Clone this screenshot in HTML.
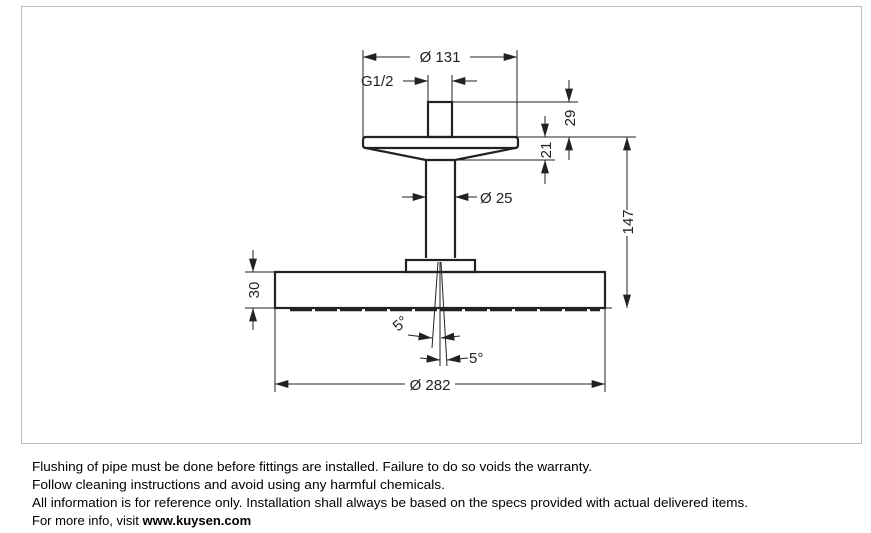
<!DOCTYPE html>
<html><head><style>body{margin:0;background:#fff}svg{display:block}</style></head><body>
<svg width="871" height="533" viewBox="0 0 871 533" xmlns="http://www.w3.org/2000/svg" font-family="Liberation Sans, sans-serif">
<rect x="21.5" y="6.5" width="840" height="437" fill="#fff" stroke="#bbb"/>
<defs>
<marker id="a" viewBox="0 0 10 6" refX="10" refY="3" markerWidth="14" markerHeight="8" markerUnits="userSpaceOnUse" orient="auto-start-reverse"><path d="M0,0L10,3L0,6z" fill="#222"/></marker>
</defs>
<g stroke="#222" fill="none">
<!-- body lines -->
<g stroke-width="2.2">
<rect x="428" y="102" width="24" height="35"/>
<path d="M366,137H515Q518,137 518,140V145Q518,148 515,148H366Q363,148 363,145V140Q363,137 366,137Z"/>
<path d="M366,148L426,160H455L515,148"/>
<path d="M426,160V258M455,160V258"/>
<rect x="406" y="260" width="69" height="12"/>
<rect x="275" y="272" width="330" height="36"/>
</g>
<path d="M290,310H600" stroke-width="2.5" stroke-dasharray="22,3"/>
<!-- extension lines -->
<g stroke-width="1">
<path d="M363,50V137M517,50V137M428,75V102M452,75V102"/>
<path d="M452,102H578M517,137H636M455,160H555"/>
<path d="M245,272H275M245,308H612"/>
<path d="M275,308V392M605,308V392"/>
<path d="M438,262L432,348M440,262V366M441,262L447,366"/>
</g>
<!-- dims -->
<g stroke-width="1">
<path d="M363,57H410M470,57H517" marker-start="url(#a)" marker-end="url(#a)"/>
<path d="M403,81H428" marker-end="url(#a)"/>
<path d="M477,81H452" marker-end="url(#a)"/>
<path d="M569,80V102" marker-end="url(#a)"/>
<path d="M569,160V137" marker-end="url(#a)"/>
<path d="M545,116V137" marker-end="url(#a)"/>
<path d="M545,184V160" marker-end="url(#a)"/>
<path d="M627,210V137" marker-end="url(#a)"/>
<path d="M627,236V308" marker-end="url(#a)"/>
<path d="M253,250V272" marker-end="url(#a)"/>
<path d="M253,330V308" marker-end="url(#a)"/>
<path d="M402,197H426" marker-end="url(#a)"/>
<path d="M477,197H455" marker-end="url(#a)"/>
<path d="M408,335L432,338" marker-end="url(#a)"/>
<path d="M460,336L441,338" marker-end="url(#a)"/>
<path d="M420,358L440,360" marker-end="url(#a)"/>
<path d="M468,358L447,360" marker-end="url(#a)"/>
<path d="M275,384H405M455,384H605" marker-start="url(#a)" marker-end="url(#a)"/>
</g>
</g>
<g fill="#222" font-size="15">
<text x="440" y="62" text-anchor="middle">Ø 131</text>
<text x="361" y="86">G1/2</text>
<text x="480" y="203">Ø 25</text>
<text x="430" y="390" text-anchor="middle">Ø 282</text>
<text transform="translate(575,118) rotate(-90)" text-anchor="middle">29</text>
<text transform="translate(551,150) rotate(-90)" text-anchor="middle">21</text>
<text transform="translate(633,222) rotate(-90)" text-anchor="middle">147</text>
<text transform="translate(259,290) rotate(-90)" text-anchor="middle">30</text>
<text transform="translate(398,332) rotate(-40)">5°</text>
<text x="469" y="363">5°</text>
</g>
<g fill="#000" font-size="13">
<text x="32" y="471" textLength="560" lengthAdjust="spacingAndGlyphs">Flushing of pipe must be done before fittings are installed. Failure to do so voids the warranty.</text>
<text x="32" y="489" textLength="413" lengthAdjust="spacingAndGlyphs">Follow cleaning instructions and avoid using any harmful chemicals.</text>
<text x="32" y="507" textLength="716" lengthAdjust="spacingAndGlyphs">All information is for reference only. Installation shall always be based on the specs provided with actual delivered items.</text>
<text x="32" y="525">For more info, visit <tspan font-weight="bold">www.kuysen.com</tspan></text>
</g>
</svg>
</body></html>
